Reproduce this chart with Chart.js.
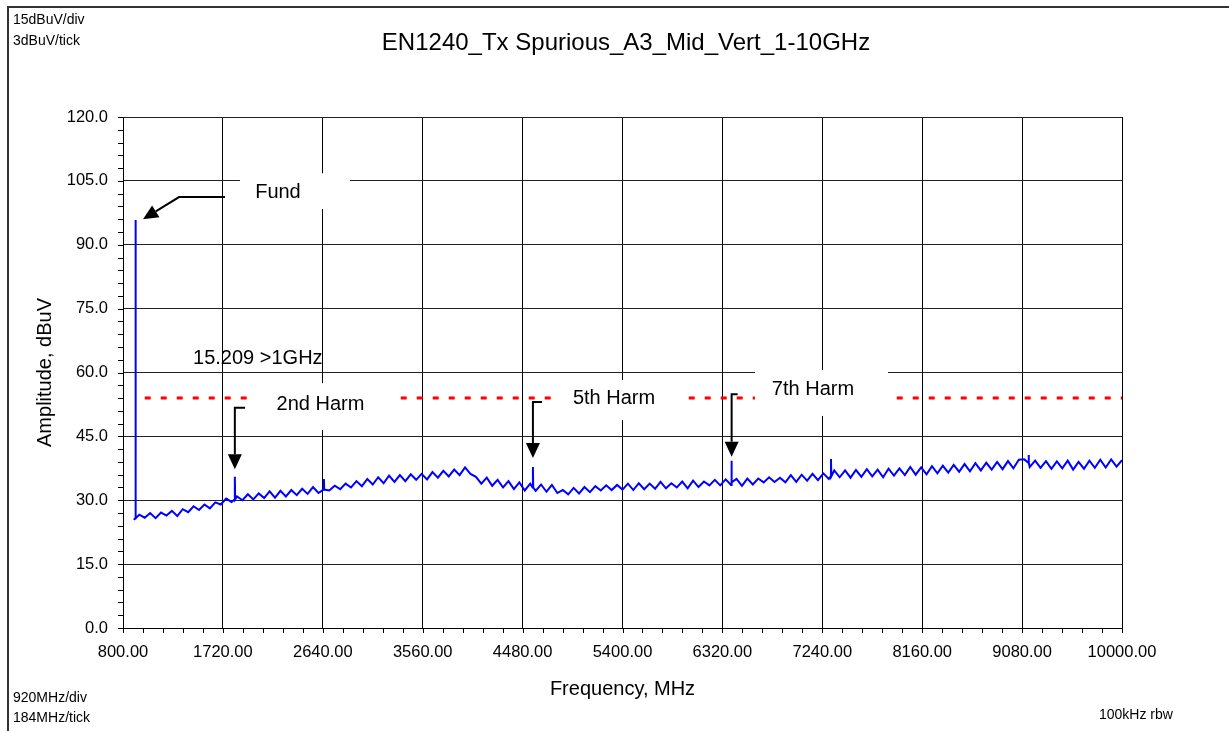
<!DOCTYPE html>
<html>
<head>
<meta charset="utf-8">
<script src="https://cdn.jsdelivr.net/npm/chart.js@4.4.1/dist/chart.umd.min.js"></script>
<style>
  html, body { margin: 0; padding: 0; background: #fff; }
  canvas { display: block; }
</style>
</head>
<body>
<canvas id="specChart" width="1229" height="731"></canvas>
<script>
// Sweep: noise floor read every 50 MHz from 900 to 10000 MHz
const sweepStart = 900;
const sweepStep = 50;
const floorAmps = [
  25.4, 26.6, 25.9, 27.0, 25.8, 27.1, 26.4, 27.5, 26.3, 27.9,
  27.2, 28.6, 27.7, 29.0, 28.1, 29.5, 29.0, 30.4, 29.6, 30.9,
  30.0, 31.4, 30.2, 31.6, 30.5, 32.1, 30.6, 32.2, 30.9, 32.4,
  31.2, 32.7, 31.5, 33.1, 31.7, 33.2, 32.3, 33.4, 32.6, 33.9,
  33.0, 34.5, 33.3, 35.0, 33.7, 35.4, 34.0, 35.8, 34.3, 35.9,
  34.5, 36.1, 34.8, 36.2, 34.9, 36.6, 35.3, 36.9, 35.6, 37.2,
  35.9, 37.7, 36.2, 35.5, 33.9, 35.3, 33.4, 34.8, 33.0, 34.5,
  32.6, 34.2, 32.3, 33.9, 32.2, 33.7, 32.0, 33.6, 31.7, 32.4,
  31.4, 32.9, 31.6, 33.1, 31.9, 33.3, 32.3, 33.5, 32.4, 33.6,
  32.5, 33.9, 32.4, 34.0, 32.6, 33.9, 32.7, 34.3, 32.8, 34.0,
  33.0, 34.4, 32.8, 34.6, 33.1, 34.4, 33.5, 34.8, 33.5, 34.9,
  33.6, 35.0, 33.4, 35.1, 33.7, 35.1, 34.2, 35.4, 34.3, 35.3,
  34.2, 35.9, 34.3, 36.0, 34.6, 36.2, 34.7, 36.3, 35.0, 37.0,
  35.4, 37.0, 35.3, 37.1, 35.5, 37.3, 35.6, 37.2, 35.4, 37.4,
  35.8, 37.5, 35.9, 37.8, 36.0, 37.7, 36.1, 38.0, 36.3, 38.1,
  36.5, 38.3, 36.7, 38.5, 36.8, 38.7, 37.0, 38.8, 37.2, 39.0,
  37.3, 39.2, 37.5, 39.5, 39.6, 37.8, 39.3, 37.6, 39.2, 37.4,
  39.1, 37.5, 39.3, 37.2, 39.0, 37.4, 39.3, 37.6, 39.5, 37.7,
  39.6, 37.9, 39.4
];

// Discrete spurs (fundamental and harmonics)
const spurFreqs = [915, 1830, 2650, 4575, 6405, 7320, 9140];
const spurPeaks = [95.8, 35.5, 35.0, 37.8, 39.3, 39.7, 40.6];
const spurBase  = [25.8, 30.2, 32.5, 33.0, 34.2, 35.6, 38.8];

// FCC 15.209 limit above 1 GHz
const limitFreqs = [1000, 10000];
const limitAmps = [54.0, 54.0];

const yTicks = { min: 0, max: 120, step: 15, minor: 3 };
const xTicks = { min: 800, max: 10000, step: 920, minor: 184 };

const FONT = '"Liberation Sans", Arial, sans-serif';

// merge floor + spurs into one trace
const trace = floorAmps.map((v, i) => ({ x: sweepStart + i * sweepStep, y: v }));
spurFreqs.forEach((f, i) => {
  trace.push({ x: f - 3, y: spurBase[i] });
  trace.push({ x: f, y: spurPeaks[i] });
  trace.push({ x: f + 3, y: spurBase[i] });
});
trace.sort((a, b) => a.x - b.x);

const limitLine = limitFreqs.map((f, i) => ({ x: f, y: limitAmps[i] }));

// annotation labels: box corners and text anchor in data units
const notes = [
  { text: 'Fund', tx: 2227, ty: 102.2, box: [1877, 106.8, 2890, 98.4],
    arrow: [[1739, 101.2], [1316, 101.2], [984, 96.0]] },
  { text: '2nd Harm', tx: 2619, ty: 52.6, box: [1970, 57.5, 3277, 46.5],
    arrow: [[1924, 51.7], [1830, 51.7], [1830, 37.3]] },
  { text: '5th Harm', tx: 5322, ty: 53.8, box: [4797, 58.2, 5994, 48.8],
    arrow: [[4659, 53.1], [4575, 53.1], [4575, 39.9]] },
  { text: '7th Harm', tx: 7154, ty: 55.9, box: [6620, 60.6, 7845, 49.8],
    arrow: [[6460, 54.9], [6405, 54.9], [6405, 40.2]] },
  { text: '15.209 >1GHz', tx: 1445, ty: 63.4, align: 'left' }
];

function drawArrow(ctx, pts) {
  const tip = pts[pts.length - 1];
  const prev = pts[pts.length - 2];
  const ang = Math.atan2(tip[1] - prev[1], tip[0] - prev[0]);
  const len = 15, half = 7;
  const bx = tip[0] - len * Math.cos(ang);
  const by = tip[1] - len * Math.sin(ang);
  ctx.strokeStyle = '#000';
  ctx.lineWidth = 2;
  ctx.beginPath();
  ctx.moveTo(pts[0][0], pts[0][1]);
  for (let i = 1; i < pts.length - 1; i++) ctx.lineTo(pts[i][0], pts[i][1]);
  ctx.lineTo(bx, by);
  ctx.stroke();
  ctx.fillStyle = '#000';
  ctx.beginPath();
  ctx.moveTo(tip[0], tip[1]);
  ctx.lineTo(bx + half * Math.sin(ang), by - half * Math.cos(ang));
  ctx.lineTo(bx - half * Math.sin(ang), by + half * Math.cos(ang));
  ctx.closePath();
  ctx.fill();
}

const decorPlugin = {
  id: 'decor',
  afterDatasetsDraw(chart) {
    const { ctx, scales: { x, y }, chartArea: a } = chart;
    ctx.save();

    // minor + major ticks outside the axes
    ctx.strokeStyle = '#000';
    ctx.lineWidth = 1;
    ctx.beginPath();
    for (let v = yTicks.min; v <= yTicks.max + 0.01; v += yTicks.minor) {
      const py = Math.round(y.getPixelForValue(v)) + 0.5;
      ctx.moveTo(a.left - 5, py);
      ctx.lineTo(a.left, py);
    }
    for (let v = xTicks.min; v <= xTicks.max + 0.01; v += xTicks.minor) {
      const px = Math.round(x.getPixelForValue(v)) + 0.5;
      ctx.moveTo(px, a.bottom);
      ctx.lineTo(px, a.bottom + 5);
    }
    ctx.stroke();

    // white label boxes, text, arrows
    notes.forEach(n => {
      if (n.box) {
        const x0 = x.getPixelForValue(n.box[0]), y0 = y.getPixelForValue(n.box[1]);
        const x1 = x.getPixelForValue(n.box[2]), y1 = y.getPixelForValue(n.box[3]);
        ctx.fillStyle = '#fff';
        ctx.fillRect(x0, y0, x1 - x0, y1 - y0);
      }
      ctx.fillStyle = '#000';
      ctx.font = '20px ' + FONT;
      ctx.textAlign = n.align || 'center';
      ctx.textBaseline = 'middle';
      ctx.fillText(n.text, x.getPixelForValue(n.tx), y.getPixelForValue(n.ty));
      if (n.arrow) {
        drawArrow(ctx, n.arrow.map(p => [x.getPixelForValue(p[0]), y.getPixelForValue(p[1])]));
      }
    });
    ctx.restore();
  },
  afterDraw(chart) {
    const { ctx, chartArea: a } = chart;
    ctx.save();
    // outer frame (top and left)
    ctx.fillStyle = '#333';
    ctx.fillRect(7, 6, chart.width - 7, 2);
    ctx.fillRect(7, 6, 2, chart.height - 6);

    ctx.fillStyle = '#000';
    ctx.textBaseline = 'middle';
    ctx.textAlign = 'center';
    ctx.font = '24px ' + FONT;
    ctx.fillText('EN1240_Tx Spurious_A3_Mid_Vert_1-10GHz', 626, 43);

    ctx.font = '20px ' + FONT;
    ctx.fillText('Frequency, MHz', (a.left + a.right) / 2, 689);
    ctx.save();
    ctx.translate(45, (a.top + a.bottom) / 2);
    ctx.rotate(-Math.PI / 2);
    ctx.fillText('Amplitude, dBuV', 0, 0);
    ctx.restore();

    ctx.font = '14px ' + FONT;
    ctx.textAlign = 'left';
    ctx.textBaseline = 'alphabetic';
    ctx.fillText('15dBuV/div', 13, 24);
    ctx.fillText('3dBuV/tick', 13, 45);
    ctx.fillText('920MHz/div', 13, 702);
    ctx.fillText('184MHz/tick', 13, 722);
    ctx.fillText('100kHz rbw', 1099, 719);
    ctx.restore();
  }
};

const ctx = document.getElementById('specChart').getContext('2d');
const specChart = new Chart(ctx, {
  type: 'line',
  data: {
    datasets: [
      {
        label: 'Trace',
        data: trace,
        borderColor: '#0000ff',
        borderWidth: 2,
        pointRadius: 0,
        tension: 0,
        order: 1
      },
      {
        label: '15.209 >1GHz',
        data: limitLine,
        borderColor: '#ff0000',
        borderWidth: 3,
        borderDash: [6, 10],
        pointRadius: 0,
        order: 2
      }
    ]
  },
  options: {
    responsive: false,
    animation: false,
    layout: { padding: { left: 0, top: 117, right: 107, bottom: 0 } },
    plugins: {
      legend: { display: false },
      tooltip: { enabled: false },
      title: { display: false }
    },
    scales: {
      x: {
        type: 'linear',
        min: xTicks.min,
        max: xTicks.max,
        afterFit: s => { s.height = 103; },
        ticks: {
          stepSize: xTicks.step,
          autoSkip: false,
          maxRotation: 0,
          padding: 15,
          color: '#000',
          font: { family: FONT, size: 16.5 },
          callback: v => Number(v).toFixed(2)
        },
        grid: { color: '#000', lineWidth: 1, drawTicks: false },
        border: { color: '#000' }
      },
      y: {
        min: yTicks.min,
        max: yTicks.max,
        afterFit: s => { s.width = 123; },
        ticks: {
          stepSize: yTicks.step,
          padding: 15,
          color: '#000',
          font: { family: FONT, size: 16.5 },
          callback: v => Number(v).toFixed(1)
        },
        grid: { color: '#222', lineWidth: 1, drawTicks: false },
        border: { color: '#000' }
      }
    }
  },
  plugins: [decorPlugin]
});
</script>
</body>
</html>
